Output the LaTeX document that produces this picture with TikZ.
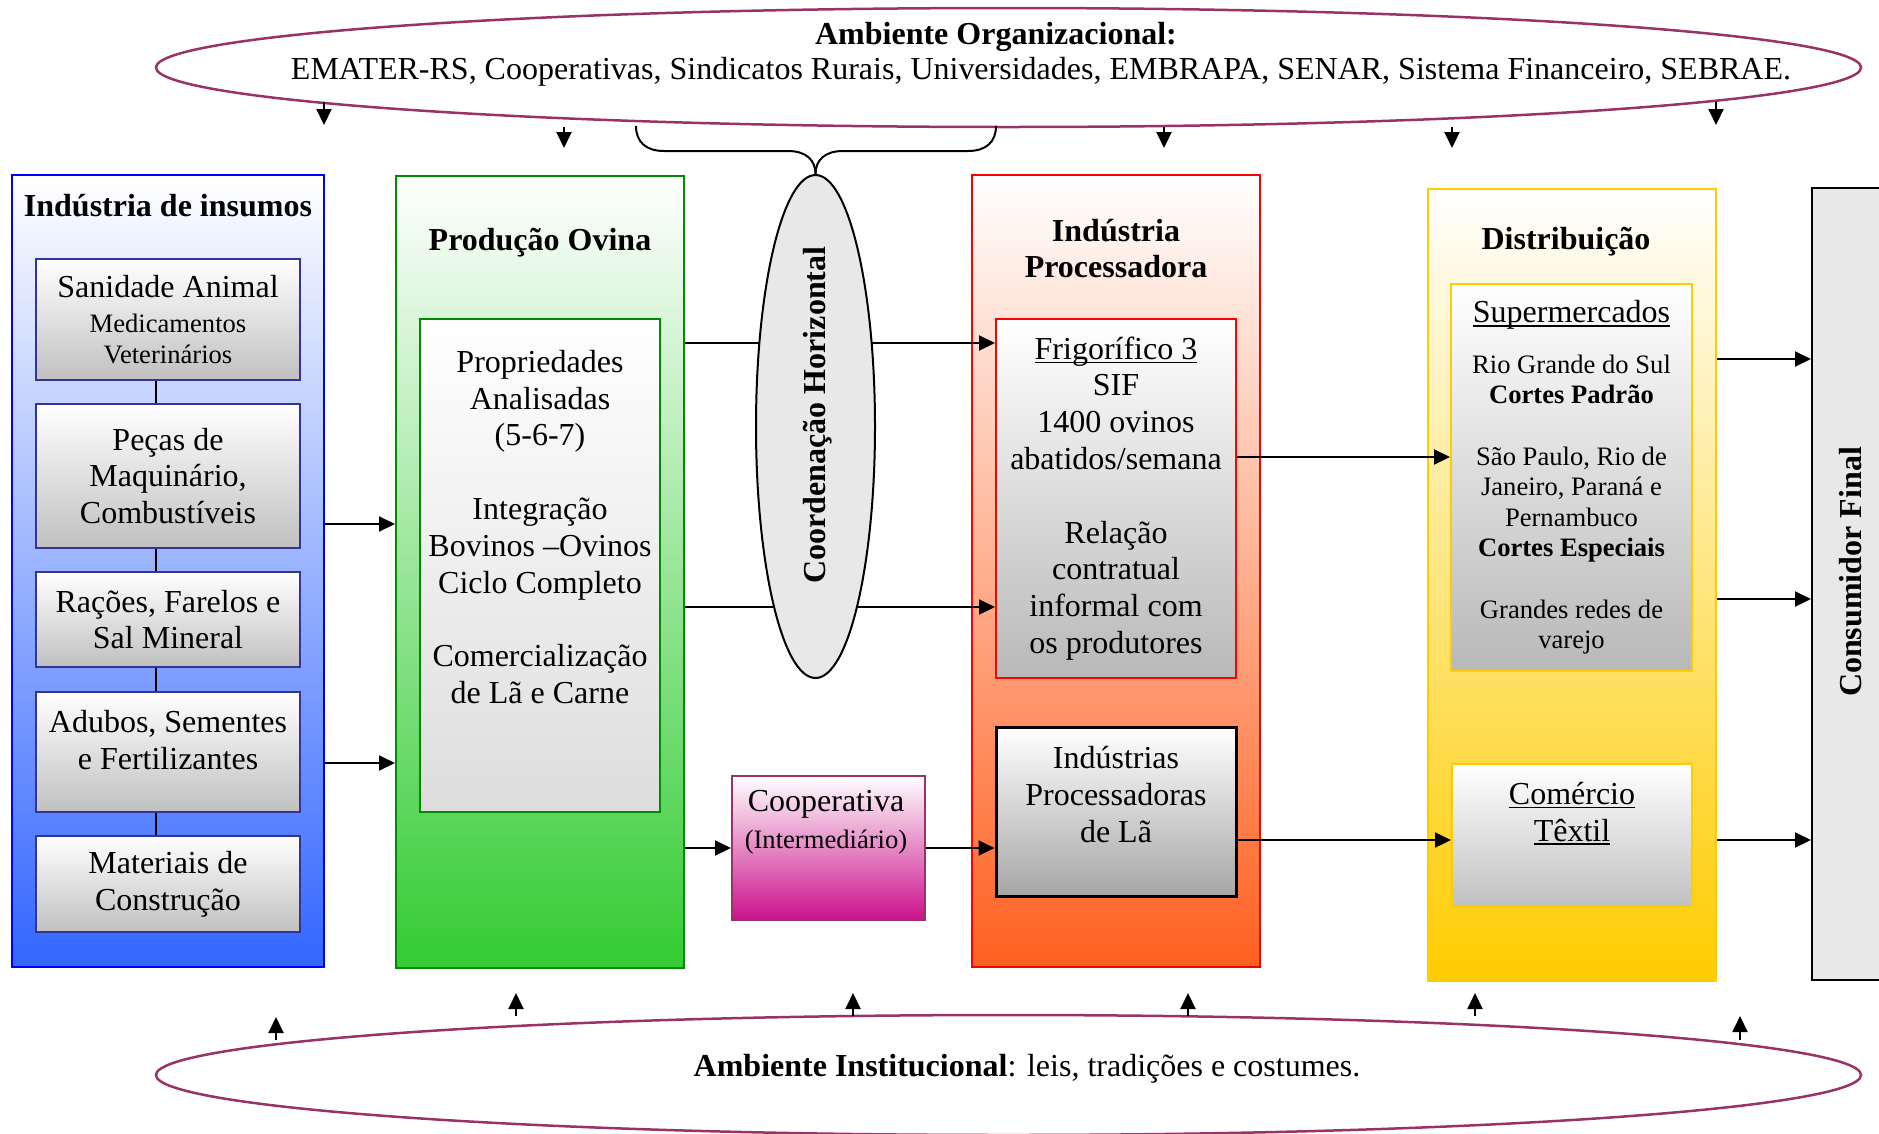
\documentclass[tikz,border=0pt]{standalone}
\usepackage{fontspec}
\setmainfont{Liberation Serif}
\usetikzlibrary{arrows.meta,shapes.geometric}

\newcommand{\bigfs}{\fontsize{32}{36.8}\selectfont}
\newcommand{\smallfs}{\fontsize{26.6}{30.6}\selectfont}
\newcommand{\ulined}[1]{\leavevmode\setbox0\hbox{#1}\rlap{\rule[-4pt]{\wd0}{1.6pt}}\box0}

\definecolor{envborder}{RGB}{153,51,102}
\definecolor{insumosblue}{RGB}{51,102,255}
\definecolor{insumosedge}{RGB}{51,51,153}
\definecolor{ovinagreen}{RGB}{51,204,51}
\definecolor{ovinaedge}{RGB}{0,140,0}
\definecolor{coopmagenta}{RGB}{204,17,140}
\definecolor{coopedge}{RGB}{153,51,102}
\definecolor{procorange}{RGB}{255,96,32}
\definecolor{distgold}{RGB}{255,204,0}
\definecolor{consgray}{RGB}{232,232,232}
\definecolor{palegray}{RGB}{221,221,221}
\definecolor{silvergray}{RGB}{192,192,192}
\definecolor{midgray}{RGB}{184,184,184}
\definecolor{darkgray}{RGB}{166,166,166}

\tikzset{
    colbox/.style={draw, line width=2pt, minimum width=288pt, minimum height=792pt, inner sep=0pt},
    subbox/.style={draw, line width=2pt, top color=white, inner sep=0pt, align=center, font=\bigfs},
    envellipse/.style={ellipse, draw=envborder, line width=2.5pt, minimum width=1705pt, minimum height=119pt, inner sep=0pt},
    headtext/.style={font=\bigfs\bfseries, align=center, inner sep=0pt},
    bodytext/.style={font=\bigfs, align=center, inner sep=0pt},
    arrowline/.style={line width=2pt, -{Triangle[length=16pt,width=15pt]}},
    link/.style={line width=2pt},
}

\begin{document}
\begin{tikzpicture}[x=1pt,y=-1pt]
    \fill[white] (0,0) rectangle (1879,1133);
    \useasboundingbox (0,0) rectangle (1879,1133);

    \node[envellipse] (orgenv) at (1008.5,67.5) {};
    \node[headtext] (orgtitle) at (996,37) {Ambiente Organizacional:};
    \node[bodytext] (orglist) at (1041,72) {EMATER-RS, Cooperativas, Sindicatos Rurais, Universidades, EMBRAPA, SENAR, Sistema Financeiro, SEBRAE.};

    \node[envellipse, minimum height=120pt] (instenv) at (1008.5,1075) {};
    \node[bodytext] (insttext) at (1027,1069) {\textbf{Ambiente Institucional}: leis, tradições e costumes.};

    \node[colbox, draw=blue, minimum width=312pt, top color=white, bottom color=insumosblue] (insumos) at (168,571) {};
    \node[colbox, draw=ovinaedge, top color=white, bottom color=ovinagreen] (producao) at (540,571.5) {};
    \node[colbox, draw=red, top color=white, bottom color=procorange] (industria) at (1116,571) {};
    \node[colbox, draw=distgold, top color=white, bottom color=distgold] (distribuicao) at (1572,584.5) {};
    \node[colbox, fill=consgray, minimum width=88pt] (consumidor) at (1856,584) {};

    \node[headtext] (insumostitle) at (168,206) {Indústria de insumos};
    \node[headtext] (producaotitle) at (540,243) {Produção Ovina};
    \node[headtext] (industriatitle) at (1116,248.5) {Indústria\\Processadora};
    \node[headtext] (distribuicaotitle) at (1566,242) {Distribuição};
    \node[headtext, rotate=90] (consumidortext) at (1851,572) {Consumidor Final};

    \node[subbox, draw=insumosedge, bottom color=silvergray, minimum width=264pt, minimum height=121pt, font=\smallfs] (sanidade) at (168,319.5) {{\bigfs Sanidade Animal}\\[4pt]Medicamentos\\Veterinários};
    \node[subbox, draw=insumosedge, bottom color=silvergray, minimum width=264pt, minimum height=144pt] (pecas) at (168,476) {Peças de\\Maquinário,\\Combustíveis};
    \node[subbox, draw=insumosedge, bottom color=silvergray, minimum width=264pt, minimum height=95pt] (racoes) at (168,619.5) {Rações, Farelos e\\Sal Mineral};
    \node[subbox, draw=insumosedge, bottom color=silvergray, minimum width=264pt, minimum height=120pt] (adubos) at (168,752) {};
    \node[bodytext] (adubostext) at (168,740) {Adubos, Sementes\\e Fertilizantes};
    \node[subbox, draw=insumosedge, bottom color=silvergray, minimum width=264pt, minimum height=96pt] (materiais) at (168,884) {Materiais de\\Construção};
    \foreach \a/\b in {sanidade/pecas, pecas/racoes, racoes/adubos, adubos/materiais}
        \draw[link] ([xshift=-12pt]\a.south) -- ([xshift=-12pt]\b.north);

    \node[subbox, draw=ovinaedge, bottom color=palegray, minimum width=240pt, minimum height=493pt] (propriedades) at (540,565.5) {};
    \node[bodytext] (propriedadestext) at (540,527) {Propriedades\\Analisadas\\(5-6-7)\\[36.8pt]Integração\\Bovinos –Ovinos\\Ciclo Completo\\[36.8pt]Comercialização\\de Lã e Carne};

    \node[subbox, draw=coopedge, bottom color=coopmagenta, minimum width=193pt, minimum height=144pt] (cooperativa) at (828.5,848) {};
    \node[bodytext] (cooperativatext) at (826,822) {Cooperativa\\{\smallfs (Intermediário)}};

    \node[subbox, draw=red, bottom color=midgray, minimum width=240pt, minimum height=359pt] (frigorifico) at (1116,498.5) {\ulined{Frigorífico 3}\\SIF\\1400 ovinos\\abatidos/semana\\[36.8pt]Relação\\contratual\\informal com\\os produtores};
    \node[subbox, draw=black, line width=3pt, bottom color=darkgray, minimum width=240pt, minimum height=169pt] (la) at (1116,811.5) {};
    \node[bodytext] (latext) at (1116,794.5) {Indústrias\\Processadoras\\de Lã};

    \node[subbox, draw=distgold, bottom color=midgray, minimum width=241pt, minimum height=387pt, font=\smallfs] (supermercados) at (1571.5,477.5) {{\bigfs\ulined{Supermercados}}\\[20pt]Rio Grande do Sul\\\textbf{Cortes Padrão}\\[30.6pt]São Paulo, Rio de\\Janeiro, Paraná e\\Pernambuco\\\textbf{Cortes Especiais}\\[30.6pt]Grandes redes de\\varejo};
    \node[subbox, draw=distgold, bottom color=silvergray, minimum width=240pt, minimum height=143pt] (comercio) at (1572,835.5) {};
    \node[bodytext] (comerciotext) at (1572,813.5) {\ulined{Comércio}\\\ulined{Têxtil}};

    \draw[arrowline] (insumos.east |- 0,524) -- (producao.west |- 0,524);
    \draw[arrowline] (insumos.east |- 0,763) -- (producao.west |- 0,763);
    \draw[arrowline] (producao.east |- 0,343) -- (frigorifico.west |- 0,343);
    \draw[arrowline] (producao.east |- 0,607) -- (frigorifico.west |- 0,607);
    \draw[arrowline] (producao.east |- cooperativa.west) -- (cooperativa.west);
    \draw[arrowline] (cooperativa.east) -- (la.west |- cooperativa.east);
    \draw[arrowline] (frigorifico.east |- 0,457) -- (supermercados.west |- 0,457);
    \draw[arrowline] (la.east |- 0,840) -- (comercio.west |- 0,840);
    \foreach \y in {359,599,840}
        \draw[arrowline] (distribuicao.east |- 0,\y) -- (consumidor.west |- 0,\y);

    \node[ellipse, draw, line width=2pt, fill=consgray, minimum width=119pt, minimum height=503pt, inner sep=0pt] (coordenacao) at (815.5,426.5) {};
    \node[headtext, rotate=90] (coordenacaotext) at (818,415) {Coordenação Horizontal};

    \draw[link] (636,126) .. controls (636,142) and (646,151) .. (664,151) -- (788,151) .. controls (806,151) and (815.5,160) .. (coordenacao.north);
    \draw[link] (996,126) .. controls (996,142) and (986,151) .. (968,151) -- (843,151) .. controls (825,151) and (815.5,160) .. (coordenacao.north);

    \foreach \x/\ya/\yb [count=\i] in {324/102/125, 564/127/148, 1164/127/148, 1452/127/148, 1716/102/125} {
        \coordinate (orgtail\i) at (\x,\ya);
        \coordinate (orghead\i) at (\x,\yb);
        \draw[arrowline] (orgtail\i) -- (orghead\i);
    }
    \foreach \x/\ya/\yb [count=\i] in {276/1040/1017, 516/1016/993, 853/1016/993, 1188/1016/993, 1475/1016/993, 1740/1040/1016} {
        \coordinate (insttail\i) at (\x,\ya);
        \coordinate (insthead\i) at (\x,\yb);
        \draw[arrowline] (insttail\i) -- (insthead\i);
    }
\end{tikzpicture}
\end{document}
